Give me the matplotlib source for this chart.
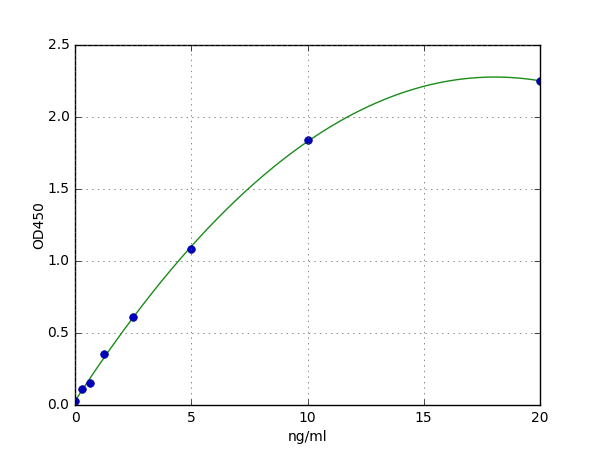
import numpy as np
import matplotlib
matplotlib.use("Agg")
import matplotlib.pyplot as plt

plt.style.use('classic')
plt.rcParams['font.size'] = 10

conc = [0, 0.3125, 0.625, 1.25, 2.5, 5, 10, 20]
od = [0.03, 0.11, 0.155, 0.354, 0.613, 1.08, 1.84, 2.25]

fig = plt.figure(figsize=(6, 4.5), dpi=100, facecolor='white')
ax = fig.add_subplot(111)
fig.subplots_adjust(left=0.125, right=0.9, bottom=0.1, top=0.9)

coef = np.polyfit(conc, od, 2)
xs = np.linspace(0, 20, 200)
ax.plot(xs, np.polyval(coef, xs), '-', color=(0.1, 0.55, 0.1), lw=1)
ax.plot(conc, od, 'o', color=(0, 0, 0.75), markeredgecolor=(0, 0, 0.55), markersize=5.5)

ax.set_xlim(0, 20)
ax.set_ylim(0, 2.5)
ax.set_xticks([0, 5, 10, 15, 20])
ax.set_yticks([0.0, 0.5, 1.0, 1.5, 2.0, 2.5])
ax.grid(True, color='0.35')
ax.tick_params(labelsize=10)
ax.set_xlabel('ng/ml', fontsize=10, labelpad=4)
ax.set_ylabel('OD450', fontsize=10, labelpad=1)

fig.savefig('out.png', dpi=100, facecolor='white')
